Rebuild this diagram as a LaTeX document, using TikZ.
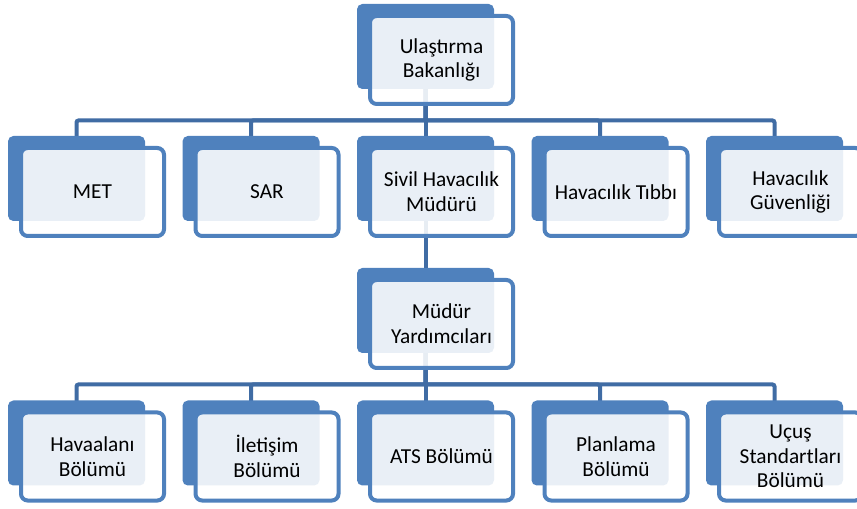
\documentclass[tikz,border=0pt]{standalone}
\usepackage{fontspec}
\setmainfont{Carlito}
\usepackage{tikz}
\usetikzlibrary{positioning, backgrounds, calc}
\definecolor{orgblue}{RGB}{79,129,189}
\definecolor{orgline}{RGB}{64,108,164}

\begin{document}
\begin{tikzpicture}[
  x=0.75pt, y=-0.75pt,
  backbox/.style={
    rectangle, rounded corners=4pt, fill=orgblue,
    minimum width=102.75pt, minimum height=63.75pt, inner sep=0pt
  },
  frontbox/.style={
    rectangle, rounded corners=5pt, draw=orgblue, line width=3pt,
    fill=white, fill opacity=0.88, text opacity=1,
    minimum width=107.25pt, minimum height=66pt, inner sep=1pt,
    align=center, font=\fontsize{16}{18.5}\selectfont
  },
  link/.style={draw=orgline, line width=3pt, rounded corners=1.5pt}
]
  \useasboundingbox (0,0) rectangle (857,509);

  % Back plates, top-down
  \node[backbox] (ubB)  at (425.5,46.5)  {};
  \node[backbox] (metB) at (76.5,178.5)  {};
  \node[backbox] (sarB) at (251,178.5)   {};
  \node[backbox] (shmB) at (425.5,178.5) {};
  \node[backbox] (htB)  at (600,178.5)   {};
  \node[backbox] (hgB)  at (774.5,178.5) {};
  \node[backbox] (myB)  at (425.5,310.5) {};
  \node[backbox] (hbB)  at (76.5,443)    {};
  \node[backbox] (ibB)  at (251,443)     {};
  \node[backbox] (atsB) at (425.5,443)   {};
  \node[backbox] (pbB)  at (600,443)     {};
  \node[backbox] (usB)  at (774.5,443)   {};

  % Front cards with the labels
  \node[frontbox] (ub)  at ([shift={(16,13.5)}]ubB.center)  {Ulaştırma\\Bakanlığı};
  \node[frontbox] (met) at ([shift={(16,13.5)}]metB.center) {MET};
  \node[frontbox] (sar) at ([shift={(16,13.5)}]sarB.center) {SAR};
  \node[frontbox] (shm) at ([shift={(16,13.5)}]shmB.center) {Sivil Havacılık\\Müdürü};
  \node[frontbox] (ht)  at ([shift={(16,13.5)}]htB.center)  {Havacılık Tıbbı};
  \node[frontbox] (hg)  at ([shift={(16,13.5)}]hgB.center)  {Havacılık\\Güvenliği};
  \node[frontbox] (my)  at ([shift={(16,13.5)}]myB.center)  {Müdür\\Yardımcıları};
  \node[frontbox] (hb)  at ([shift={(16,13.5)}]hbB.center)  {Havaalanı\\Bölümü};
  \node[frontbox] (ib)  at ([shift={(16,13.5)}]ibB.center)  {İletişim\\Bölümü};
  \node[frontbox] (ats) at ([shift={(16,13.5)}]atsB.center) {ATS Bölümü};
  \node[frontbox] (pb)  at ([shift={(16,13.5)}]pbB.center)  {Planlama\\Bölümü};
  \node[frontbox] (us)  at ([shift={(16,13.5)}]usB.center)  {Uçuş\\Standartları\\Bölümü};

  % Connectors behind the boxes
  \begin{scope}[on background layer]
    \foreach \c in {metB, sarB, shmB, htB, hgB}
      \draw[link] (ubB.center) -- ++(0,74) -| (\c.center);
    \draw[link] (shmB.center) -- (myB.center);
    \foreach \c in {hbB, ibB, atsB, pbB, usB}
      \draw[link] (myB.center) -- ++(0,74) -| (\c.center);
  \end{scope}
\end{tikzpicture}
\end{document}
